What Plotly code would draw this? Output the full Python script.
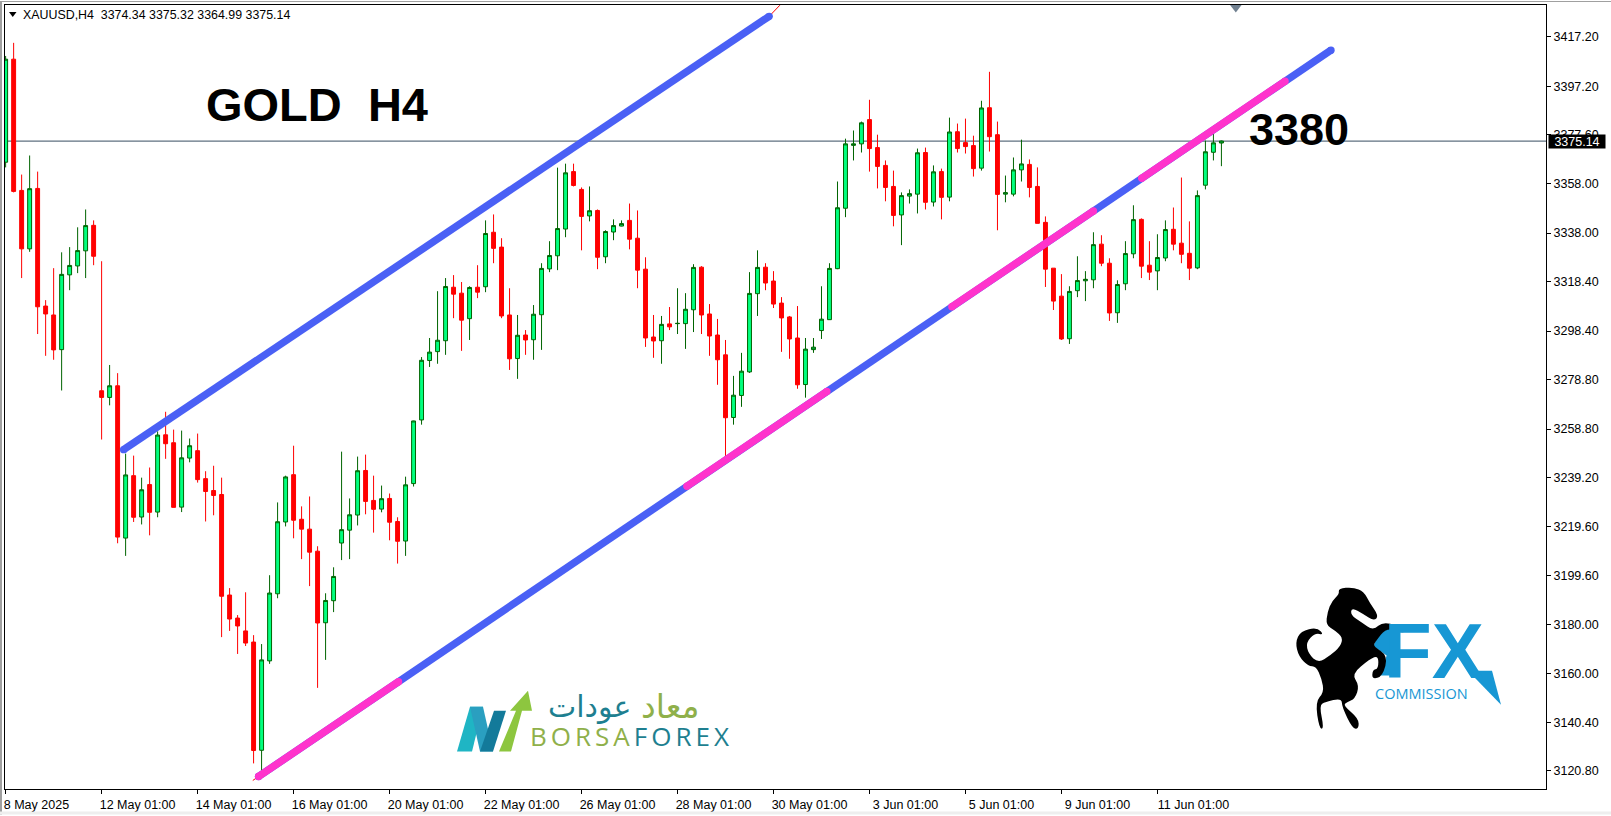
import plotly.graph_objects as go

open_ = [3366.6,3408.2,3355.2,3331.6,3356,3308.5,3304.9,3290.9,3321.1,3324.7,3330.8,3341.1,3274.3,3271.6,3276.3,3214.8,3240,3223.3,3236.4,3225.3,
3256.5,3253.3,3227.3,3247.1,3250.1,3238.8,3234,3232.4,3191.8,3182.5,3177.3,3172.8,3129.1,3165.2,3192.3,3221.3,3240.4,3222.4,3218.4,3209.5,
3180.6,3189.5,3212.8,3218,3224.1,3242.1,3230,3226.5,3230.8,3221.5,3213.6,3236.8,3262.5,3286.5,3290.1,3294.5,3316.1,3313.7,3303.4,3316.1,
3316.3,3338.3,3332.3,3304.9,3287.3,3296.8,3294.9,3305,3323.5,3328.8,3339.6,3362.8,3355.6,3344.9,3347.1,3328.4,3338.4,3340.8,3343.1,3335.9,
3323.4,3296,3294.5,3301.3,3301.4,3301.4,3307,3324.2,3305.3,3296.8,3288.8,3263.5,3272.4,3281.9,3313.5,3324.2,3318.6,3309.7,3304.1,3295.6,
3276.8,3290.9,3298.6,3303,3323.6,3348,3373.4,3374,3383.8,3372.5,3365.3,3356.8,3345.3,3352.9,3353.7,3370.5,3350.5,3362.8,3352.5,3378.9,
3374.5,3373.3,3364.2,3388.6,3377.7,3353.7,3353.7,3363.5,3365.7,3356.8,3342.3,3323.8,3312.5,3295.3,3314.7,3318.7,3319.1,3333.5,3325.8,3305.8,
3317.5,3329.6,3343.5,3325,3322.7,3327.9,3339.5,3333.9,3329.8,3323.9,3357.3,3370.6,3374.34]
high_ = [3409.5,3414.8,3361.6,3369.3,3362.8,3310.9,3323.8,3330.2,3332.3,3340.3,3347.5,3343.1,3326.6,3284.7,3281.4,3248.9,3248.1,3239.2,3243.3,3257.9,
3265.8,3258.6,3258.2,3255,3257,3241.8,3244,3239.2,3194.6,3183.7,3192.9,3175.6,3172,3199.8,3229.2,3240,3252.1,3227.6,3231.6,3211.5,
3192.5,3203,3249.7,3230.8,3247.7,3248.5,3240,3236,3232.8,3223.2,3239.6,3262.2,3287.9,3295.6,3314.5,3319.8,3321,3318.2,3316.5,3325,
3343.1,3345.5,3335.9,3315.7,3304.9,3298.8,3308.9,3325.8,3334.7,3364.4,3366,3366,3356.4,3356.8,3347.5,3339.1,3343.5,3343.1,3349.9,3347.1,
3328.2,3304.9,3304.5,3308.1,3315.7,3313.7,3325.4,3324.6,3309.3,3303.3,3294.8,3280.3,3289.6,3322.2,3331,3325.8,3322.6,3312.1,3304.5,3308.5,
3295.6,3295.6,3316.5,3325.8,3358.8,3376.1,3379.4,3383,3391.8,3377.7,3367.3,3363.2,3354.4,3355.6,3372.1,3372.5,3365.3,3364,3384.6,3382.2,
3384.2,3377.3,3391.4,3403.1,3383,3361.2,3368.5,3375.7,3367.7,3364.5,3344.7,3323.8,3321.4,3316.5,3328.6,3322.6,3338.3,3337.1,3327.8,3318.9,
3334.7,3349.2,3343.9,3334.7,3337.5,3343.1,3348.3,3360.4,3342.7,3355.2,3375.3,3378.1,3375.32]
low_ = [3364.5,3354.4,3319.8,3330.4,3297.2,3288.4,3286.8,3274.4,3314.9,3321.8,3319.8,3325,3254.6,3268.4,3212.7,3207.6,3221.3,3220.3,3215.9,3223.2,
3246.8,3227.2,3225.3,3245.4,3237.2,3221.5,3224,3174.8,3177.3,3168,3171.2,3123.8,3120.5,3164,3190.5,3219.5,3214.7,3206.3,3195.4,3154.3,
3165.6,3184.9,3205.9,3206.3,3219.9,3224.4,3217,3225.2,3213.9,3204.5,3207.6,3235.6,3260.6,3283.9,3285.2,3288.8,3303.6,3290.4,3294.8,3311.7,
3314.1,3325.8,3303.6,3282.7,3279.1,3288.8,3286.8,3290.8,3322.2,3323,3336.3,3356.8,3331,3342.7,3323.4,3325.8,3335.1,3340.7,3331.4,3315.7,
3292,3287.6,3285.2,3298.8,3297.2,3291.2,3298,3297.2,3288.4,3276.7,3247.5,3260.6,3267.8,3281.5,3304.5,3314.9,3307.7,3290,3287.2,3275.1,
3271.5,3289.6,3295.2,3302.9,3323.4,3344.4,3367.3,3370.5,3362.8,3356,3350.8,3340.7,3333.1,3349.9,3345.9,3347.5,3348.7,3343.5,3350.8,3370.5,
3370.1,3360.8,3363.2,3370.9,3339.1,3350.4,3352.8,3358.8,3352.4,3341.9,3316.2,3306.9,3294.8,3293.2,3312.1,3310.5,3315.7,3324.6,3302.5,3301.7,
3314.9,3327.8,3319.8,3319,3314.9,3326.6,3331,3325.8,3319,3323.4,3355.6,3367.3,3364.99]
close_ = [3408.2,3354.8,3331.6,3355.9,3308.2,3305.3,3290.8,3321.3,3324.9,3330.9,3341,3328.6,3271.6,3276.3,3215.2,3240.3,3223.2,3234.3,3225.2,3256.4,
3252.9,3227.2,3247.2,3252.1,3238.4,3233.6,3232,3191.3,3182.1,3179.3,3172.4,3129,3165.6,3192.6,3221.4,3239.5,3222,3218.4,3209.1,3180.5,
3189.6,3199.3,3218.2,3224.2,3242,3229.6,3226.4,3230.7,3221.2,3213.5,3236.3,3262.1,3286.6,3289.9,3294.7,3316.4,3313.3,3302.8,3316,3314.1,
3337.8,3331.8,3304.5,3287.2,3296.7,3294.8,3305.2,3323.7,3328.9,3339.8,3362.3,3357.2,3344.7,3347,3328.2,3338.6,3341,3341.8,3335.5,3323,
3295.6,3294.4,3301.1,3300.1,3301.5,3307.2,3324.1,3304.9,3296.4,3286.8,3263.4,3272.5,3282.2,3313.6,3324.1,3317.8,3309.3,3303.7,3295.2,3276.7,
3291.1,3291.9,3303.2,3323.7,3348.2,3374,3374,3382.5,3372.1,3364.9,3356.4,3345.1,3353.1,3353.9,3370.4,3350.4,3362.7,3352.4,3378.8,3372.1,
3372.9,3364,3388.5,3376.9,3353.6,3354.3,3363.5,3365.9,3356.4,3341.9,3323.4,3310.5,3295.2,3314.4,3318.8,3319.3,3333.3,3325.8,3305.7,3317.2,
3329.7,3343.4,3324.6,3322.2,3328.1,3339.4,3333.5,3329.4,3323.8,3353.1,3370.8,3374.4,3375.14]

bar_index = list(range(len(open_)))

x_tick_bars = [0, 12, 24, 36, 48, 60, 72, 84, 96, 108, 120, 132, 144]
x_tick_labels = ["8 May 2025\u00a0\u00a0\u00a0", "12 May 01:00", "14 May 01:00", "16 May 01:00", "20 May 01:00", "22 May 01:00",
                 "26 May 01:00", "28 May 01:00", "30 May 01:00", "3 Jun 01:00", "5 Jun 01:00", "9 Jun 01:00", "11 Jun 01:00"]
y_tick_vals = [3417.20, 3397.20, 3377.60, 3358.00, 3338.00, 3318.40, 3298.40, 3278.80, 3258.80,
               3239.20, 3219.60, 3199.60, 3180.00, 3160.00, 3140.40, 3120.80]
y_tick_labels = [f"{v:.2f}" for v in y_tick_vals]

last_price = 3375.14
legend_text = "XAUUSD,H4  3374.34 3375.32 3364.99 3375.14"

upper_x = [14.75, 95.46]
upper_y = [3250.5, 3425.5]
upper_ext_x = [95.46, 96.8]
upper_ext_y = [3425.5, 3430.0]
lower_x = [31.62, 165.7]
lower_y = [3118.5, 3411.85]
lower_ext_x = [30.9, 31.62]
lower_ext_y = [3116.9, 3118.5]
pink_x = [[31.62, 49.12], [85.17, 102.67], [118.3, 136.0], [142.04, 159.95]]
pink_y = [[3118.5, 3156.8], [3235.7, 3274.0], [3308.2, 3346.9], [3360.1, 3399.3]]
marker_bar = [153.8]
marker_price = [3429.3]

BLUE = "#4a60f5"
PINK = "#ff33cc"
RED = "#ff0000"
THICK = 7.4
L, R, T, B = 5.0, 1546.0, 4.0, 790.5


def px(x):
    return (x - L) / (R - L)


def py(y):
    return 1 - (y - T) / (B - T)


def poly(points, color):
    d = "M " + " L ".join(f"{px(x):.5f},{py(y):.5f}" for x, y in points) + " Z"
    return dict(type="path", path=d, xref="paper", yref="paper", fillcolor=color, line=dict(width=0), layer="above")


def smooth(points, color):
    n = len(points)
    mids = [((points[i][0] + points[(i + 1) % n][0]) / 2, (points[i][1] + points[(i + 1) % n][1]) / 2) for i in range(n)]
    d = f"M {px(mids[-1][0]):.5f},{py(mids[-1][1]):.5f}"
    for i in range(n):
        d += f" Q {px(points[i][0]):.5f},{py(points[i][1]):.5f} {px(mids[i][0]):.5f},{py(mids[i][1]):.5f}"
    return dict(type="path", path=d + " Z", xref="paper", yref="paper", fillcolor=color, line=dict(width=0), layer="above")


def zoomed(points, ox, oy):
    return [(ox + a / 3, oy + b / 3) for a, b in points]


def thick(xs, ys, color):
    return go.Scatter(x=xs, y=ys, mode="lines+markers", line=dict(color=color, width=THICK),
                      marker=dict(color=color, size=THICK), showlegend=False, hoverinfo="skip")


fig = go.Figure()
fig.add_trace(go.Candlestick(
    x=bar_index, open=open_, high=high_, low=low_, close=close_,
    increasing=dict(line=dict(color="#006400", width=1), fillcolor="#00ff7f"),
    decreasing=dict(line=dict(color=RED, width=1), fillcolor=RED),
    whiskerwidth=0, showlegend=False, hoverinfo="skip",
))
fig.add_trace(go.Scatter(x=upper_ext_x, y=upper_ext_y, mode="lines", line=dict(color=RED, width=1), showlegend=False, hoverinfo="skip"))
fig.add_trace(go.Scatter(x=lower_ext_x, y=lower_ext_y, mode="lines", line=dict(color=RED, width=1), showlegend=False, hoverinfo="skip"))
fig.add_trace(thick(upper_x, upper_y, BLUE))
fig.add_trace(thick(lower_x, lower_y, BLUE))
for xs, ys in zip(pink_x, pink_y):
    fig.add_trace(thick(xs, ys, PINK))
fig.add_trace(go.Scatter(x=marker_bar, y=marker_price, mode="markers", cliponaxis=False,
                         marker=dict(symbol="triangle-down", size=11, color="#708090"), showlegend=False, hoverinfo="skip"))

# logos and window frame
horse = [(295,88),(340,84),(372,98),(388,130),(416,170),(402,186),(370,165),(335,145),(332,168),(365,190),(400,215),(430,186),
         (500,210),(490,224),(440,205),(405,250),(400,262),(444,290),(428,352),(396,362),(398,332),(415,330),(415,290),(390,300),
         (335,345),(358,380),(345,420),(320,430),(310,440),(356,480),(356,510),(338,510),(306,445),(305,418),(255,430),(238,440),
         (252,510),(238,510),(226,430),(252,400),(245,360),(228,322),(205,322),(176,292),(166,250),(182,216),(232,205),(252,228),
         (225,222),(198,250),(205,285),(235,312),(270,290),(302,262),(308,235),(285,215),(258,198),(262,160),(276,125),(298,105)]
f_stem = [(430,195),(480,195),(480,350),(420,350),(440,290),(400,262),(405,250)]
shapes = [
    dict(type="line", xref="paper", x0=0, x1=1, yref="y", y0=last_price, y1=last_price,
         line=dict(color="#5f7080", width=1.2), layer="below"),
    dict(type="rect", xref="paper", yref="paper", x0=px(0), x1=px(2), y0=py(816), y1=py(0), fillcolor="#a0a0a0", line=dict(width=0)),
    dict(type="rect", xref="paper", yref="paper", x0=px(0), x1=px(1611), y0=py(1), y1=py(0), fillcolor="#a0a0a0", line=dict(width=0)),
    dict(type="rect", xref="paper", yref="paper", x0=px(0), x1=px(1611), y0=py(816), y1=py(813), fillcolor="#eeeeee", line=dict(width=0)),
    poly([(9, 11), (16.5, 11), (12.75, 16)], "black"),
    poly(zoomed(f_stem, 1240, 560), "#1797d4"),
    poly([(1468, 672), (1492, 672), (1501, 706)], "#1797d4"),
    smooth(zoomed(horse, 1240, 560), "black"),
    poly([(457, 753), (472, 753), (483, 708), (470, 708)], "#1fb5c4"),
    poly([(470, 708), (483, 708), (493, 753), (480, 753)], "#2a9fc0"),
    poly([(480, 753), (493, 753), (506, 712), (494, 712)], "#137a9a"),
    poly([(499, 753), (511, 753), (522, 712), (532, 712), (528, 692), (510, 712), (516, 712)], "#8dc63f"),
]

annotations = [
    dict(text="GOLD  H4", x=24.8, y=3390, xref="x", yref="y", xanchor="left", yanchor="middle", showarrow=False,
         font=dict(family="Liberation Sans", size=47, color="black", weight="bold")),
    dict(text="3380", x=155.2, y=3380, xref="x", yref="y", xanchor="left", yanchor="middle", showarrow=False,
         font=dict(family="Liberation Sans", size=45, color="black", weight="bold")),
    dict(text=legend_text, x=px(21), y=py(14), xref="paper", yref="paper", xanchor="left", yanchor="middle", showarrow=False,
         font=dict(family="Liberation Sans", size=12.4, color="black")),
    dict(text=f"{last_price:.2f}", x=px(1547.5), y=last_price, xref="paper", yref="y", xanchor="left", yanchor="middle",
         showarrow=False, bgcolor="black", width=56, height=13, borderpad=0, align="center",
         font=dict(family="Liberation Sans", size=12.5, color="white")),
    dict(text="FX", x=px(1382), y=py(652), xref="paper", yref="paper", xanchor="left", yanchor="middle", showarrow=False,
         font=dict(family="Liberation Sans", size=78, color="#1797d4", weight="bold")),
    dict(text="COMMISSION", x=px(1421), y=py(695), xref="paper", yref="paper", xanchor="center", yanchor="middle", showarrow=False,
         font=dict(family="Open Sans", size=14.5, color="#1797d4")),
    dict(text='<span style="color:#8fb04a;letter-spacing:4px">BORSA</span><span style="color:#1e7f90;letter-spacing:4px">FOREX</span>',
         x=px(631), y=py(737), xref="paper", yref="paper", xanchor="center", yanchor="middle", showarrow=False,
         font=dict(family="Open Sans", size=26)),
    dict(text="عودات", x=px(589), y=py(708), xref="paper", yref="paper", xanchor="center", yanchor="middle", showarrow=False,
         font=dict(family="DejaVu Sans", size=30, color="#1e7f90")),
    dict(text="معاد", x=px(670), y=py(708), xref="paper", yref="paper", xanchor="center", yanchor="middle", showarrow=False,
         font=dict(family="DejaVu Sans", size=33, color="#8fb04a")),
]

fig.update_layout(
    width=1611, height=816, margin=dict(l=L, r=1611 - R, t=T, b=816 - B, pad=0),
    paper_bgcolor="white", plot_bgcolor="white", showlegend=False, shapes=shapes, annotations=annotations,
    font=dict(family="Liberation Sans", size=12.5, color="black"),
    xaxis=dict(range=[-0.08, 192.58], rangeslider=dict(visible=False), showgrid=False, zeroline=False,
               tickmode="array", tickvals=x_tick_bars, ticktext=x_tick_labels, ticks="outside", ticklen=4, tickcolor="black",
               showline=True, linecolor="black", linewidth=1, mirror=True, tickangle=0, ticklabelshift=36),
    yaxis=dict(range=[3113.46, 3430.08], side="right", showgrid=False, zeroline=False,
               tickmode="array", tickvals=y_tick_vals, ticktext=y_tick_labels, ticks="outside", ticklen=4, tickcolor="black",
               showline=True, linecolor="black", linewidth=1, mirror=True),
)

fig.write_html("out.html", post_script="document.body.style.margin='0';", config=dict(displayModeBar=False))
